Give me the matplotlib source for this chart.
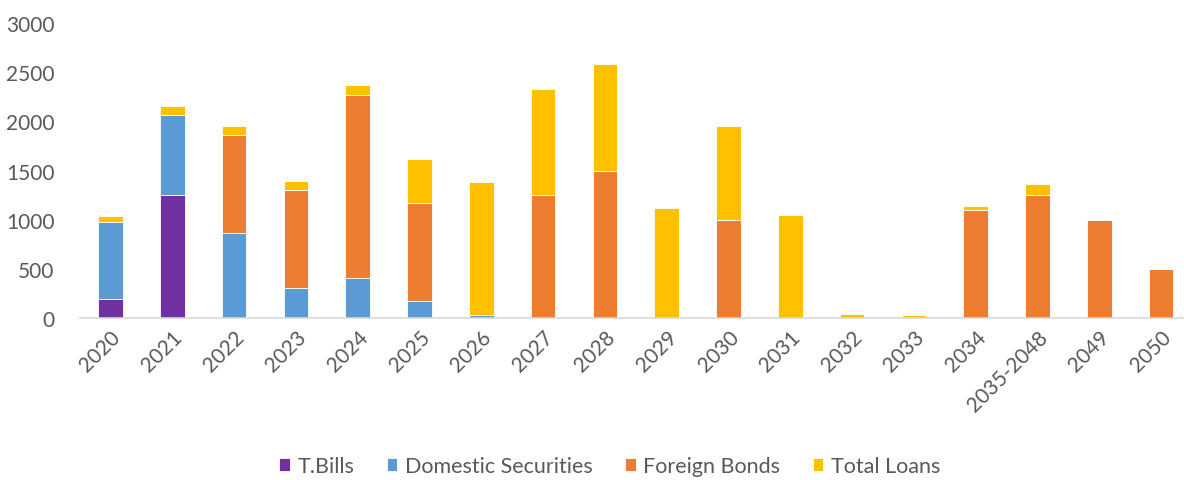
import matplotlib

matplotlib.use("Agg")
import matplotlib.pyplot as plt
import numpy as np

years = ["2020", "2021", "2022", "2023", "2024", "2025", "2026", "2027", "2028",
         "2029", "2030", "2031", "2032", "2033", "2034", "2035-2048", "2049", "2050"]
t_bills = [190, 1250, 0, 0, 0, 0, 0, 0, 0, 0, 0, 0, 0, 0, 0, 0, 0, 0]
domestic = [790, 810, 860, 300, 410, 170, 30, 0, 0, 0, 0, 0, 0, 0, 0, 0, 0, 0]
foreign = [0, 0, 1000, 1000, 1860, 1000, 0, 1250, 1500, 0, 1000, 0, 0, 0, 1100, 1250, 1000, 500]
loans = [60, 100, 95, 90, 100, 450, 1350, 1080, 1080, 1115, 955, 1045, 40, 35, 40, 110, 0, 0]

series = [
    ("T.Bills", t_bills, "#7030A0"),
    ("Domestic Securities", domestic, "#5B9BD5"),
    ("Foreign Bonds", foreign, "#ED7D31"),
    ("Total Loans", loans, "#FFC000"),
]

plt.rcParams["font.family"] = ["Lato", "DejaVu Sans"]
text_color = "#595959"

fig = plt.figure(figsize=(11.84, 4.81), dpi=100)
ax = fig.add_axes([0.0672, 0.3368, 0.9328, 0.6133])

x = np.arange(len(years))
bottom = np.zeros(len(years))
for name, vals, color in series:
    vals = np.array(vals, dtype=float)
    ax.bar(x, vals, 0.4, bottom=bottom, color=color, label=name,
           edgecolor="white", linewidth=0.6)
    bottom += vals

ax.set_xlim(-0.5, 17.37)
ax.set_ylim(0, 3000)
ax.set_yticks(range(0, 3001, 500))
ax.set_xticks(x)
ax.set_xticklabels(years, rotation=45, ha="right", rotation_mode="anchor")
ax.tick_params(axis="both", length=0, labelsize=15, colors=text_color)
ax.tick_params(axis="y", pad=18)
ax.tick_params(axis="x", pad=6)

for side in ("top", "right", "left"):
    ax.spines[side].set_visible(False)
ax.spines["bottom"].set_color("#D9D9D9")
ax.spines["bottom"].set_linewidth(1.2)

leg = fig.legend(loc="center", bbox_to_anchor=(0.515, 0.029), ncol=4, frameon=False,
                 fontsize=15.5, handlelength=0.5, handleheight=0.5, handletextpad=0.35,
                 columnspacing=1.5)
for t in leg.get_texts():
    t.set_color(text_color)

fig.savefig("out.png", dpi=100)
